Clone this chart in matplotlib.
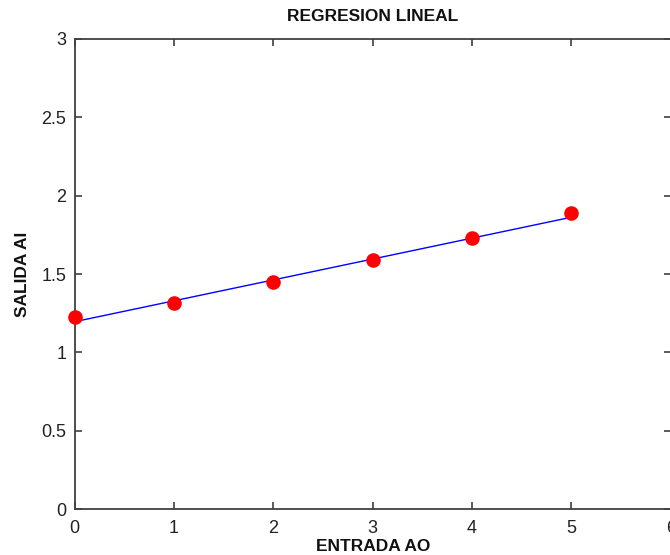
import matplotlib
matplotlib.use("Agg")
import matplotlib.pyplot as plt

# data
x_data = [0, 1, 2, 3, 4, 5]
y_data = [1.228, 1.317, 1.447, 1.589, 1.727, 1.887]
fit_x = [0, 5]
fit_y = [1.196, 1.862]

x_ticks = [0, 1, 2, 3, 4, 5, 6]
y_ticks = [0, 0.5, 1, 1.5, 2, 2.5, 3]
y_tick_labels = ["0", "0.5", "1", "1.5", "2", "2.5", "3"]

title = "REGRESION LINEAL"
xlabel = "ENTRADA AO"
ylabel = "SALIDA AI"

W, H = 670, 555
fig = plt.figure(figsize=(W / 100, H / 100), dpi=100)
left, right, top, bottom = 74.7, 670.8, 38.7, 509.3
ax = fig.add_axes([left / W, (H - bottom) / H, (right - left) / W, (bottom - top) / H])

ax.plot(fit_x, fit_y, color="blue", lw=1.0, zorder=2)
ax.plot(x_data, y_data, "o", color="red", markersize=10.5, markeredgewidth=0,
        zorder=3, clip_on=False)

ax.set_xlim(0, 6)
ax.set_ylim(0, 3)
ax.set_xticks(x_ticks)
ax.set_yticks(y_ticks)
ax.set_yticklabels(y_tick_labels)

for lab in ax.get_xticklabels() + ax.get_yticklabels():
    lab.set_fontfamily(["Liberation Sans", "DejaVu Sans"])
    lab.set_fontsize(13)
    lab.set_color("#222222")

ax.tick_params(direction="in", length=5, width=1.2, color="#404040",
               top=True, right=True)
ax.tick_params(axis="x", pad=8)
ax.tick_params(axis="y", pad=6)
for s in ax.spines.values():
    s.set_color("#404040")
    s.set_linewidth(1.3)

label_font = dict(family=["Liberation Sans", "DejaVu Sans"],
                  fontweight="bold", fontsize=12.5, color="#111111")
ax.set_title(title, pad=13, **label_font)
ax.set_xlabel(xlabel, labelpad=1, **label_font)
ax.set_ylabel(ylabel, labelpad=8, **label_font)

fig.savefig("out.png", dpi=100)
